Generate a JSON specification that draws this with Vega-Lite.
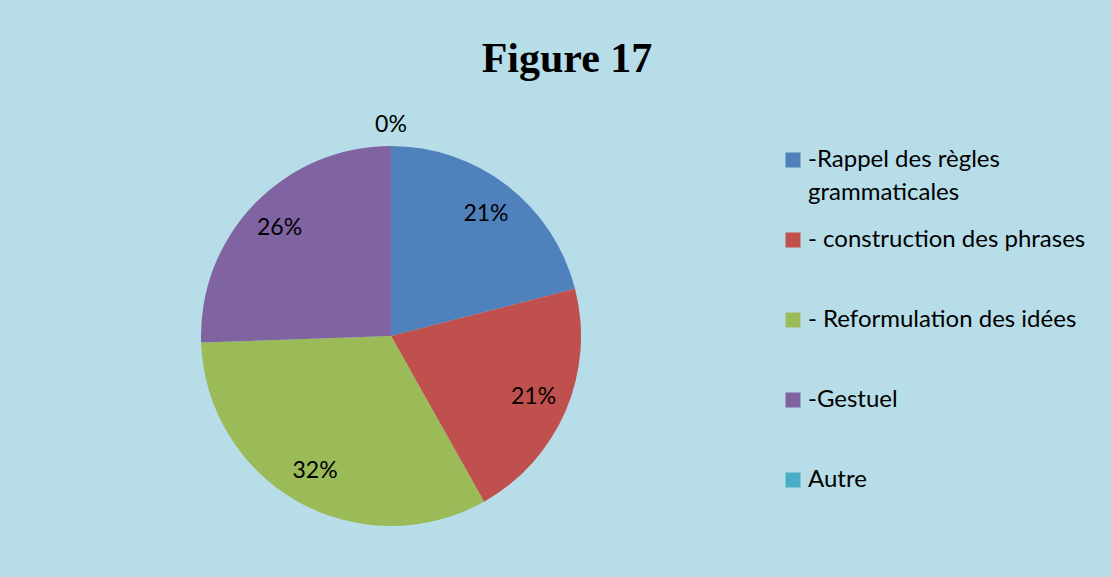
{
  "$schema": "https://vega.github.io/schema/vega-lite/v6.json",
  "width": 764,
  "height": 482,
  "autosize": {"type": "none"},
  "padding": {"left": 9, "top": 95, "right": 338, "bottom": 0},
  "background": "#B7DDE8",
  "config": {"view": {"stroke": null}},
  "title": {
    "text": "Figure 17",
    "font": "Liberation Serif",
    "fontSize": 42,
    "fontWeight": "bold",
    "color": "#000000",
    "anchor": "middle",
    "frame": "group",
    "dx": 176,
    "baseline": "alphabetic",
    "offset": -19
  },
  "data": {
    "values": [
      {"idx": 1, "cat": "-Rappel des règles grammaticales", "value": 21.0, "label": "21%"},
      {"idx": 2, "cat": "- construction des phrases", "value": 20.85, "label": "21%"},
      {"idx": 3, "cat": "- Reformulation des idées", "value": 32.6, "label": "32%"},
      {"idx": 4, "cat": "-Gestuel", "value": 25.55, "label": "26%"},
      {"idx": 5, "cat": "Autre", "value": 0, "label": "0%"}
    ]
  },
  "encoding": {
    "theta": {"field": "value", "type": "quantitative", "stack": true},
    "order": {"field": "idx", "type": "quantitative"}
  },
  "layer": [
    {
      "mark": {"type": "arc", "outerRadius": 190},
      "encoding": {
        "color": {
          "field": "cat",
          "type": "nominal",
          "sort": ["-Rappel des règles grammaticales", "- construction des phrases", "- Reformulation des idées", "-Gestuel", "Autre"],
          "scale": {
            "domain": ["-Rappel des règles grammaticales", "- construction des phrases", "- Reformulation des idées", "-Gestuel", "Autre"],
            "range": ["#4F81BD", "#C0504D", "#9BBB59", "#8064A2", "#4BACC6"]
          },
          "legend": {
            "title": null,
            "orient": "none",
            "legendX": 772,
            "legendY": 53,
            "padding": 0,
            "symbolType": "square",
            "symbolSize": 225,
            "symbolStrokeWidth": 0,
            "labelFont": "Lato",
            "labelFontSize": 24,
            "labelColor": "#000000",
            "labelOffset": 3,
            "labelLimit": 400,
            "labelBaseline": "middle",
            "gridAlign": "all",
            "rowPadding": 23,
            "labelExpr": "datum.label == '-Rappel des règles grammaticales' ? ['-Rappel des règles', 'grammaticales'] : datum.label",
            "encode": {"labels": {"update": {"lineHeight": {"value": 33}}}}
          }
        }
      }
    },
    {
      "transform": [{"filter": "datum.value > 0"}],
      "mark": {"type": "text", "radius": 155, "font": "Lato", "fontSize": 23, "color": "#000000", "align": "center", "baseline": "middle"},
      "encoding": {"text": {"field": "label", "type": "nominal"}}
    },
    {
      "transform": [{"filter": "datum.value == 0"}],
      "mark": {"type": "text", "radius": 211, "font": "Lato", "fontSize": 23, "color": "#000000", "align": "center", "baseline": "middle"},
      "encoding": {"text": {"field": "label", "type": "nominal"}}
    }
  ]
}
